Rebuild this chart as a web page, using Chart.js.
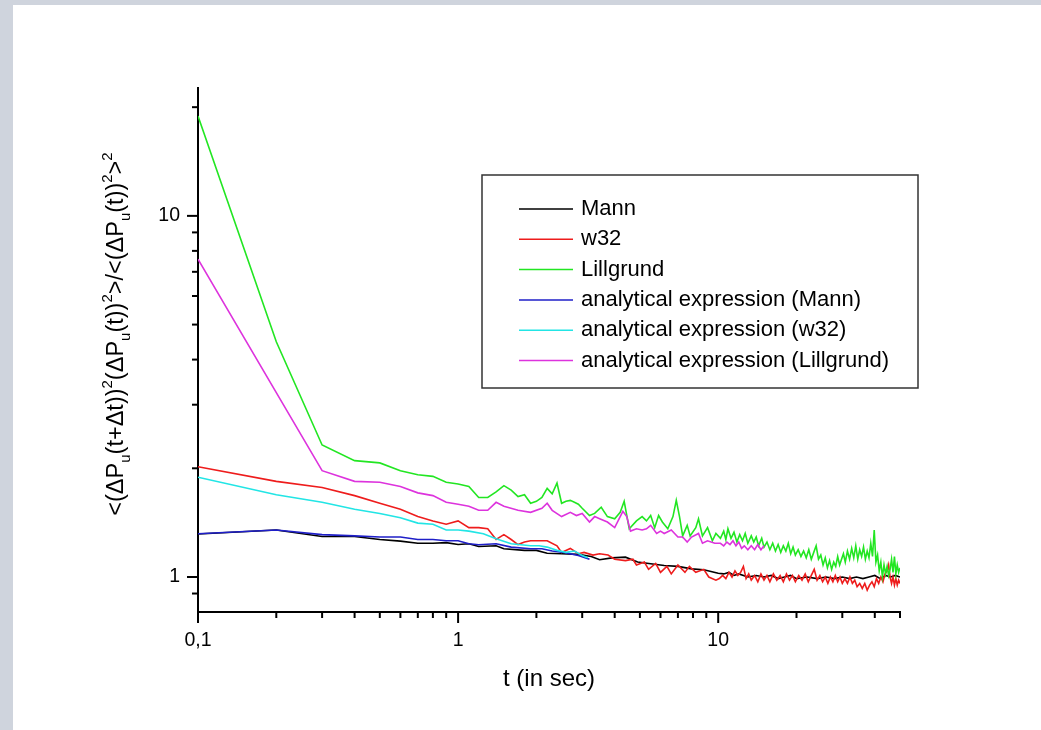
<!DOCTYPE html>
<html>
<head>
<meta charset="utf-8">
<script src="https://cdn.jsdelivr.net/npm/chart.js@4.4.1/dist/chart.umd.min.js"></script>
<style>
  body { margin: 0; background: #cfd4dd; }
  #wrap { position: absolute; left: 13px; top: 5px; width: 1028px; height: 725px; background: #fff; }
</style>
</head>
<body>
<div id="wrap"><canvas id="graph"></canvas></div>
<script>
// values, [t in s, ratio]
const mann = [[0.1,1.315],[0.2,1.35],[0.3,1.295],[0.4,1.295],[0.5,1.27],[0.6,1.257],[0.7,1.24],[0.8,1.24],[0.9,1.245],[1.0,1.23],
  [1.1,1.236],[1.2,1.215],[1.4,1.22],[1.5,1.197],[1.8,1.185],[2.0,1.185],[2.2,1.164],[2.5,1.16],[2.9,1.155],[3.25,1.14],
  [3.5,1.116],[3.9,1.13],[4.4,1.135],[4.9,1.10],[5.5,1.088],[6.2,1.076],[7.0,1.07],[7.9,1.053],[8.8,1.047],[10,1.024],
  [10.5,1.02],[11,1.03],[11.5,1.01],[12,1.02],[13,1.00],[14,1.01],[15,1.00],[16,1.01],[17,0.99],[18,1.00],[19,1.01],[20,0.99],
  [22,1.00],[24,0.99],[26,1.00],[28,0.99],[30,1.00],[32,0.99],[34,1.00],[36,0.99],[38,1.00],[40,1.01],[42,0.99],[44,1.01],
  [46,1.00],[48,1.01],[50,1.00]];

const w32 = [[0.1,2.02],[0.2,1.84],[0.3,1.77],[0.4,1.68],[0.5,1.60],[0.6,1.54],[0.7,1.47],[0.8,1.43],[0.9,1.40],[1.0,1.43],
  [1.1,1.37],[1.2,1.37],[1.3,1.36],[1.4,1.27],[1.5,1.31],[1.6,1.27],[1.7,1.23],[1.8,1.25],[1.9,1.26],[2.0,1.26],[2.1,1.26],
  [2.2,1.26],[2.4,1.22],[2.5,1.17],[2.7,1.20],[2.9,1.16],[3.05,1.17],[3.3,1.15],[3.5,1.16],[3.77,1.15],[4.0,1.12],[4.4,1.11],
  [4.7,1.12],[4.85,1.08],[5.2,1.10],[5.4,1.05],[5.75,1.09],[6.0,1.03],[6.35,1.07],[6.6,1.02],[7.0,1.08],[7.45,1.03],[7.75,1.07],
  [8.2,1.03],[8.8,1.05],[9.2,1.00],[9.8,0.98],[10.1,0.99],[10.4,1.01],[10.7,0.99],[11.0,1.03],[11.3,1.00],[11.6,1.04],[11.9,1.01],
  [12.2,1.03],[12.5,1.07],[12.8,0.99],[13.1,1.02],[13.4,0.98],[13.8,1.01],[14.2,0.97],[14.6,1.02],[15.0,0.98],[15.4,1.01],
  [15.8,0.97],[16.3,1.02],[16.8,0.98],[17.3,1.01],[17.8,0.97],[18.3,1.02],[18.8,0.98],[19.3,1.01],[19.8,0.97],[20.4,1.01],
  [21.0,0.98],[21.6,1.02],[22.2,0.97],[22.8,1.01],[23.4,1.05],[24.0,0.98],[24.6,1.01],[25.2,0.97],[25.8,1.00],[26.4,0.96],
  [27.0,1.00],[27.6,0.97],[28.2,1.01],[28.8,0.97],[29.4,1.00],[30.0,0.96],[30.7,0.99],[31.4,0.96],[32.1,1.00],[32.8,0.96],
  [33.5,0.98],[34.2,0.94],[35.0,0.96],[35.8,0.93],[36.6,0.96],[37.4,0.92],[38.2,0.95],[39.0,0.97],[39.8,0.94],[40.6,0.99],
  [41.4,0.96],[42.2,1.00],[43.0,0.97],[43.8,1.02],[44.6,1.04],[45.2,1.08],[45.8,1.00],[46.4,0.96],[47.0,1.00],[47.6,0.95],
  [48.2,0.99],[48.8,0.95],[49.4,0.98],[50.0,0.96]];

const lillgrund = [[0.1,18.9],[0.2,4.48],[0.3,2.32],[0.4,2.10],[0.5,2.07],[0.6,1.97],[0.7,1.92],[0.8,1.90],[0.9,1.83],[1.0,1.81],
  [1.1,1.78],[1.2,1.66],[1.3,1.66],[1.4,1.72],[1.5,1.79],[1.6,1.74],[1.7,1.67],[1.8,1.69],[1.9,1.60],[2.0,1.62],[2.1,1.66],
  [2.2,1.76],[2.3,1.70],[2.4,1.82],[2.5,1.60],[2.6,1.62],[2.7,1.63],[2.8,1.61],[2.9,1.59],[3.0,1.55],[3.2,1.48],[3.35,1.50],
  [3.55,1.56],[3.75,1.47],[4.0,1.45],[4.2,1.51],[4.35,1.62],[4.55,1.36],[4.85,1.43],[5.1,1.47],[5.3,1.43],[5.5,1.48],[5.7,1.37],
  [5.9,1.48],[6.1,1.42],[6.4,1.36],[6.7,1.47],[6.9,1.63],[7.1,1.47],[7.3,1.30],[7.6,1.39],[7.8,1.30],[8.2,1.37],[8.4,1.45],
  [8.7,1.30],[9.1,1.37],[9.5,1.26],[9.8,1.32],[10.2,1.28],[10.5,1.34],[10.7,1.27],[10.9,1.36],[11.2,1.28],[11.5,1.33],
  [11.8,1.25],[12.1,1.31],[12.4,1.26],[12.7,1.32],[13.0,1.24],[13.4,1.30],[13.7,1.25],[14.0,1.29],[14.3,1.22],[14.7,1.28],
  [15.0,1.21],[15.4,1.25],[15.8,1.19],[16.2,1.24],[16.6,1.18],[17.0,1.23],[17.4,1.17],[17.8,1.22],[18.2,1.18],[18.6,1.24],
  [19.0,1.16],[19.4,1.21],[19.8,1.15],[20.3,1.19],[20.8,1.14],[21.3,1.18],[21.8,1.13],[22.3,1.19],[22.8,1.12],[23.3,1.17],
  [23.8,1.22],[24.3,1.12],[24.8,1.15],[25.3,1.08],[25.8,1.13],[26.3,1.06],[26.8,1.11],[27.3,1.05],[27.8,1.10],[28.3,1.07],
  [28.8,1.14],[29.3,1.08],[29.8,1.12],[30.3,1.16],[30.8,1.10],[31.4,1.18],[32.0,1.12],[32.6,1.20],[33.2,1.13],[33.8,1.22],
  [34.4,1.12],[35.0,1.19],[35.6,1.14],[36.2,1.21],[36.8,1.12],[37.4,1.18],[38.0,1.13],[38.6,1.24],[39.2,1.14],[39.8,1.35],
  [40.4,1.10],[41.0,1.15],[41.6,1.04],[42.2,1.10],[42.8,1.00],[43.4,1.08],[44.0,1.02],[44.6,1.07],[45.2,1.01],[45.8,1.05],
  [46.4,1.12],[47.0,1.03],[47.6,1.14],[48.2,1.02],[48.8,1.08],[49.4,1.03],[50.0,1.06]];

const anaMann = [[0.1,1.318],[0.2,1.35],[0.3,1.31],[0.4,1.30],[0.5,1.29],[0.6,1.29],[0.7,1.27],[0.8,1.27],[0.9,1.26],[1.0,1.26],
  [1.1,1.236],[1.2,1.228],[1.4,1.236],[1.6,1.21],[1.9,1.197],[2.1,1.197],[2.3,1.18],[2.55,1.17],[2.9,1.147],[3.2,1.12]];

const anaW32 = [[0.1,1.89],[0.2,1.69],[0.3,1.61],[0.4,1.54],[0.5,1.50],[0.6,1.46],[0.7,1.41],[0.8,1.40],[0.9,1.35],[1.0,1.35],
  [1.1,1.34],[1.25,1.318],[1.4,1.276],[1.6,1.236],[1.9,1.22],[2.05,1.22],[2.2,1.21],[2.4,1.185],[2.6,1.17],[2.8,1.18],
  [3.0,1.147],[3.15,1.13]];

const anaLillgrund = [[0.1,7.59],[0.2,3.24],[0.3,1.97],[0.4,1.84],[0.5,1.83],[0.6,1.78],[0.7,1.71],[0.8,1.68],[0.9,1.61],[1.0,1.59],
  [1.1,1.57],[1.2,1.53],[1.3,1.53],[1.4,1.61],[1.5,1.57],[1.7,1.53],[1.9,1.51],[2.1,1.55],[2.2,1.60],[2.3,1.53],[2.5,1.47],
  [2.7,1.51],[2.85,1.48],[3.0,1.50],[3.2,1.42],[3.35,1.47],[3.5,1.45],[3.75,1.42],[4.0,1.37],[4.3,1.52],[4.45,1.47],[4.6,1.34],
  [4.85,1.36],[5.1,1.35],[5.3,1.36],[5.5,1.39],[5.8,1.32],[6.0,1.34],[6.2,1.32],[6.6,1.35],[7.0,1.29],[7.3,1.29],[7.6,1.25],
  [7.9,1.29],[8.4,1.32],[8.7,1.24],[9.1,1.26],[9.7,1.24],[10.2,1.24],[10.5,1.22],[10.8,1.25],[11.1,1.23],[11.4,1.26],
  [11.7,1.22],[12.0,1.25],[12.3,1.20],[12.6,1.22],[13.0,1.19],[13.4,1.22],[13.8,1.19],[14.2,1.23],[14.6,1.19],[15.0,1.22]];

const seriesNames = ["Mann", "w32", "Lillgrund", "analytical expression (Mann)",
  "analytical expression (w32)", "analytical expression (Lillgrund)"];
const seriesData = [mann, w32, lillgrund, anaMann, anaW32, anaLillgrund];
const seriesColors = ["#000000", "#ee1c1c", "#22e622", "#1f1fc8", "#22e5e5", "#dd33dd"];

const xMajor = [0.1, 1, 10];
const xMajorLabels = ["0,1", "1", "10"];
const xMinor = [0.2, 0.3, 0.4, 0.5, 0.6, 0.7, 0.8, 0.9, 2, 3, 4, 5, 6, 7, 8, 9, 20, 30, 40, 50];
const yMajor = [1, 10];
const yMajorLabels = ["1", "10"];
const yMinor = [0.9, 2, 3, 4, 5, 6, 7, 8, 9, 20];

const xTitle = "t (in sec)";
// [text, 0 normal / 1 subscript / 2 superscript]
const yTitleParts = [["<(ΔP",0],["u",1],["(t+Δt))",0],["2",2],["(ΔP",0],["u",1],["(t))",0],["2",2],
  [">/<(ΔP",0],["u",1],["(t))",0],["2",2],[">",0],["2",2]];

const FONT = "'Liberation Sans', Arial, sans-serif";
Chart.defaults.font.family = FONT;
Chart.defaults.color = "#000";

const decor = {
  id: "decor",
  afterDraw(chart) {
    const ctx = chart.ctx;
    const a = chart.chartArea;
    const xs = chart.scales.x, ys = chart.scales.y;
    ctx.save();

    // axis ticks, long for decades, short in between
    ctx.strokeStyle = "#000";
    ctx.lineWidth = 2;
    const line = (x1, y1, x2, y2) => { ctx.beginPath(); ctx.moveTo(x1, y1); ctx.lineTo(x2, y2); ctx.stroke(); };
    xMajor.forEach(v => { const p = xs.getPixelForValue(v); line(p, a.bottom, p, a.bottom + 11); });
    xMinor.forEach(v => { const p = xs.getPixelForValue(v); line(p, a.bottom, p, a.bottom + 6); });
    yMajor.forEach(v => { const p = ys.getPixelForValue(v); line(a.left, p, a.left - 11, p); });
    yMinor.forEach(v => { const p = ys.getPixelForValue(v); line(a.left, p, a.left - 6, p); });

    // legend box
    const lx = a.left + 284, ly = a.top + 87, lw = 436, lh = 213;
    ctx.lineWidth = 1.5;
    ctx.strokeStyle = "#333";
    ctx.strokeRect(lx, ly, lw, lh);
    ctx.font = "22px " + FONT;
    ctx.textBaseline = "middle";
    ctx.fillStyle = "#000";
    chart.data.datasets.forEach((ds, i) => {
      const y = ly + 34 + i * 30.3;
      ctx.strokeStyle = ds.borderColor;
      ctx.lineWidth = 1.5;
      line(lx + 37, y, lx + 91, y);
      ctx.fillText(ds.label, lx + 99, y);
    });

    // x title
    ctx.font = "24px " + FONT;
    ctx.textAlign = "center";
    ctx.fillText(xTitle, (a.left + a.right) / 2, a.bottom + 67);

    // y title with sub/superscripts
    ctx.textAlign = "left";
    ctx.textBaseline = "alphabetic";
    const big = "23.5px " + FONT, small = "15px " + FONT;
    let total = 0;
    yTitleParts.forEach(([t, k]) => { ctx.font = k ? small : big; total += ctx.measureText(t).width; });
    ctx.translate(a.left - 75, (a.top + a.bottom) / 2 - 16);
    ctx.rotate(-Math.PI / 2);
    let x = -total / 2;
    yTitleParts.forEach(([t, k]) => {
      ctx.font = k ? small : big;
      const dy = k === 1 ? 7 : (k === 2 ? -11 : 0);
      ctx.fillText(t, x, dy);
      x += ctx.measureText(t).width;
    });
    ctx.restore();
  }
};

new Chart(document.getElementById("graph"), {
  type: "line",
  data: {
    datasets: seriesData.map((d, i) => ({
      label: seriesNames[i],
      data: d.map(p => ({ x: p[0], y: p[1] })),
      borderColor: seriesColors[i],
      borderWidth: 1.6,
      pointRadius: 0,
      tension: 0,
      fill: false,
      order: 6 - i,
    })),
  },
  options: {
    responsive: true,
    maintainAspectRatio: false,
    animation: false,
    layout: { padding: { left: 0, top: 83, right: 141, bottom: 0 } },
    plugins: { legend: { display: false }, tooltip: { enabled: false } },
    scales: {
      x: {
        type: "logarithmic",
        min: 0.1,
        max: 50,
        bounds: "data",
        afterBuildTicks: (s) => { s.ticks = xMajor.map(v => ({ value: v })); },
        afterFit: (s) => { s.height = 118; },
        grid: { display: false, drawTicks: false },
        border: { display: true, color: "#000", width: 2 },
        ticks: {
          autoSkip: false,
          maxRotation: 0,
          padding: 17,
          font: { size: 19.5 },
          callback: (v, i) => xMajorLabels[i],
        },
      },
      y: {
        type: "logarithmic",
        min: 0.8,
        max: 22.6,
        bounds: "data",
        afterBuildTicks: (s) => { s.ticks = yMajor.map(v => ({ value: v })); },
        afterFit: (s) => { s.width = 185; },
        grid: { display: false, drawTicks: false },
        border: { display: true, color: "#000", width: 2 },
        ticks: {
          autoSkip: false,
          padding: 18,
          font: { size: 19.5 },
          callback: (v, i) => yMajorLabels[i],
        },
      },
    },
  },
  plugins: [decor],
});
</script>
</body>
</html>
